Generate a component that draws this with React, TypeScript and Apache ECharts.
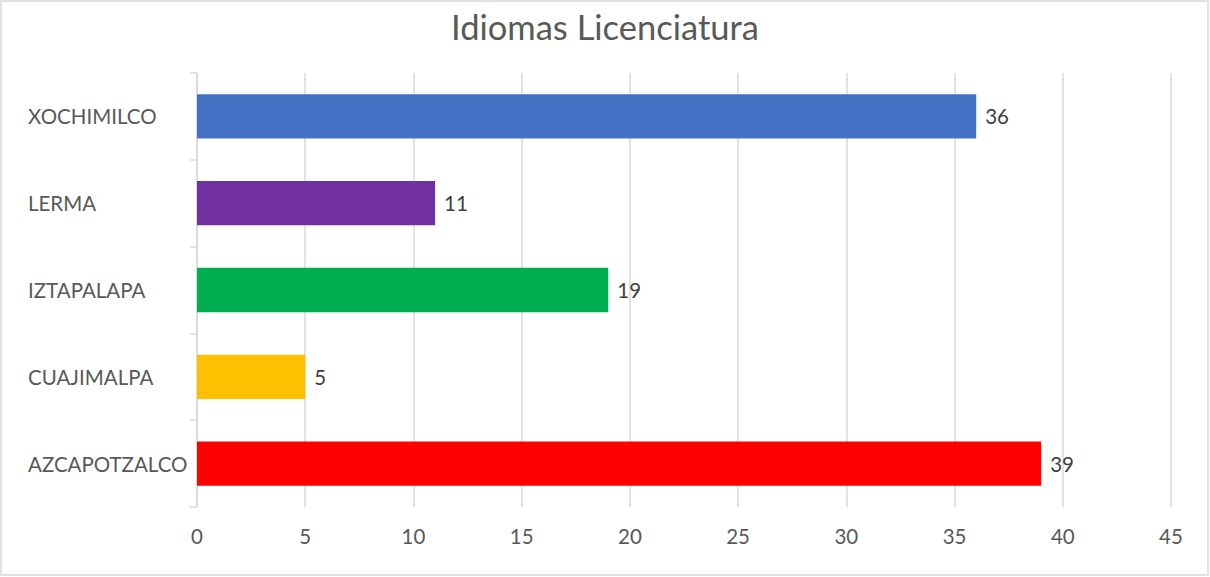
import React, { useEffect, useRef } from "react";
import * as echarts from "echarts";

const categories = ["AZCAPOTZALCO", "CUAJIMALPA", "IZTAPALAPA", "LERMA", "XOCHIMILCO"];
const values = [39, 5, 19, 11, 36];
const colors = ["#FF0000", "#FFC000", "#00B050", "#7030A0", "#4472C4"];
const title = "Idiomas Licenciatura";

const FONT = "Lato, 'Open Sans', sans-serif";

export default function App() {
  const ref = useRef<HTMLDivElement>(null);
  useEffect(() => {
    if (!ref.current) return;
    const chart = echarts.init(ref.current, undefined, { renderer: "svg" });
    chart.setOption({
      animation: false,
      backgroundColor: "#ffffff",
      textStyle: { fontFamily: FONT },
      title: {
        text: title,
        left: "center",
        top: 4,
        textStyle: { fontFamily: FONT, fontSize: 34.5, fontWeight: "normal", color: "#595959" },
      },
      graphic: [
        {
          type: "rect",
          shape: { x: 1, y: 1, width: 1207, height: 574 },
          style: { fill: "none", stroke: "#d9d9d9", lineWidth: 1.5 },
          silent: true,
        },
      ],
      grid: { left: 197, right: 39, top: 73, bottom: 70, containLabel: false },
      xAxis: {
        type: "value",
        min: 0,
        max: 45,
        interval: 5,
        axisLine: { show: false },
        axisTick: { show: false },
        splitLine: { show: true, lineStyle: { color: "#d9d9d9", width: 1.5 } },
        axisLabel: { color: "#595959", fontSize: 20.5, margin: 18, fontFamily: FONT },
      },
      yAxis: {
        type: "category",
        data: categories,
        axisLine: { show: true, lineStyle: { color: "#d9d9d9", width: 1.5 } },
        axisTick: { show: true, length: 7, lineStyle: { color: "#d9d9d9", width: 1.5 } },
        axisLabel: { color: "#595959", fontSize: 20.5, align: "left", margin: 169, fontFamily: FONT },
      },
      series: [
        {
          type: "bar",
          data: values.map((v, i) => ({ value: v, itemStyle: { color: colors[i] } })),
          barCategoryGap: "49%",
          label: {
            show: true,
            position: "right",
            distance: 9,
            color: "#404040",
            fontSize: 20.5,
            fontFamily: FONT,
          },
        },
      ],
    });
    return () => chart.dispose();
  }, []);
  return (
    <div
      ref={ref}
      style={{ position: "fixed", left: 0, top: 0, width: 1210, height: 577 }}
    />
  );
}
